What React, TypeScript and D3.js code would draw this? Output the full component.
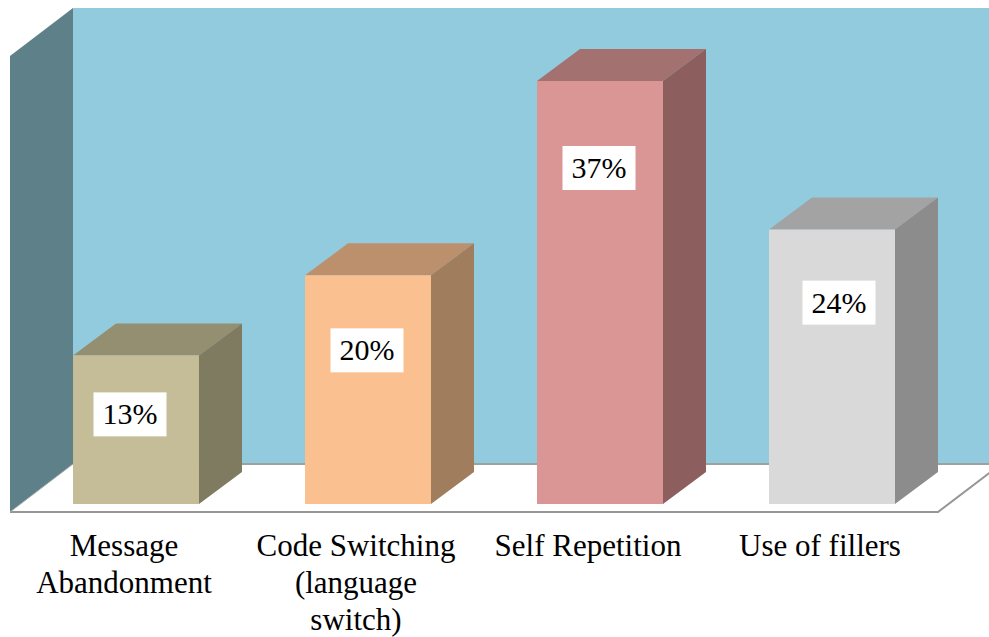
import React, { useRef, useEffect } from "react";
import * as d3 from "d3";

const categories = ["Message Abandonment", "Code Switching (language switch)", "Self Repetition", "Use of fillers"];
const categoryLines = [["Message", "Abandonment"], ["Code Switching", "(language", "switch)"], ["Self Repetition"], ["Use of fillers"]];
const values = [13, 20, 37, 24];
const faceColors = ["#c4bd97", "#fac090", "#d99694", "#d9d9d9"];
const topColors = ["#948f70", "#bc906c", "#a37170", "#a3a3a3"];
const sideColors = ["#7f7b60", "#a07d5d", "#8c5f5e", "#8c8c8c"];

// the value boxes were hand placed in the original
const labelNudgeX = [-6, -1, -1, 7];
const labelDropY = [59, 75, 87, 73];

export default function App() {
  const ref = useRef<HTMLDivElement>(null);

  useEffect(() => {
    const width = 989;
    const height = 637;
    const floorY = 512;
    const baseY = 504;
    const wallDepth = { x: 63, y: 48 };
    const barDepth = { x: 43, y: 32 };

    d3.select(ref.current).selectAll("*").remove();
    const svg = d3
      .select(ref.current)
      .append("svg")
      .attr("width", width)
      .attr("height", height)
      .style("position", "absolute")
      .style("left", 0)
      .style("top", 0)
      .style("background", "#fff");

    // bars sit 10px to the right of the floor's front edge because of the 3D depth
    const x = d3.scaleBand().domain(categories).range([20, 948]).paddingInner(0.457).paddingOuter(0.2285);
    const y = d3.scaleLinear().domain([0, 37]).range([baseY, 81]);
    const poly = d3.line();

    const wallTop = 8;
    const wallBack = floorY - wallDepth.y;

    // Back wall
    svg
      .append("path")
      .attr("d", poly([[10 + wallDepth.x, wallTop], [width, wallTop], [width, wallBack], [10 + wallDepth.x, wallBack]]) + "Z")
      .attr("fill", "#92cbdd");

    // Left wall
    svg
      .append("path")
      .attr("d", poly([[10, wallTop + wallDepth.y], [10 + wallDepth.x, wallTop], [10 + wallDepth.x, wallBack], [10, floorY]]) + "Z")
      .attr("fill", "#5e8089");

    // Floor edges
    svg
      .append("path")
      .attr("d", poly([[73, wallBack], [width, wallBack]]))
      .attr("fill", "none")
      .attr("stroke", "#a0a0a0")
      .attr("stroke-width", 2);
    svg
      .append("path")
      .attr("d", poly([[10, floorY], [938, floorY], [938 + wallDepth.x, floorY - wallDepth.y]]))
      .attr("fill", "none")
      .attr("stroke", "#969696")
      .attr("stroke-width", 2);
    svg
      .append("path")
      .attr("d", poly([[10, floorY], [73, wallBack]]))
      .attr("fill", "none")
      .attr("stroke", "#a8a8a8")
      .attr("stroke-width", 1);

    // Bars
    const bars = svg
      .selectAll("g.bar")
      .data(categories)
      .join("g")
      .attr("class", "bar");

    bars
      .append("path")
      .attr("d", (d, i) => {
        const x0 = x(d)!;
        const x1 = x0 + x.bandwidth();
        const top = y(values[i]);
        return poly([[x0, top], [x1, top], [x1 + barDepth.x, top - barDepth.y], [x0 + barDepth.x, top - barDepth.y]]) + "Z";
      })
      .attr("fill", (d, i) => topColors[i]);

    bars
      .append("path")
      .attr("d", (d, i) => {
        const x1 = x(d)! + x.bandwidth();
        const top = y(values[i]);
        return poly([[x1, top], [x1 + barDepth.x, top - barDepth.y], [x1 + barDepth.x, baseY - barDepth.y], [x1, baseY]]) + "Z";
      })
      .attr("fill", (d, i) => sideColors[i]);

    bars
      .append("rect")
      .attr("x", (d) => x(d)!)
      .attr("y", (d, i) => y(values[i]))
      .attr("width", x.bandwidth())
      .attr("height", (d, i) => baseY - y(values[i]))
      .attr("fill", (d, i) => faceColors[i]);

    // Value boxes
    const boxW = 73;
    const boxH = 44;
    const labelCx = (d: string, i: number) => x(d)! + x.bandwidth() / 2 + labelNudgeX[i];
    const labelCy = (i: number) => y(values[i]) + labelDropY[i];

    bars
      .append("rect")
      .attr("x", (d, i) => labelCx(d, i) - boxW / 2)
      .attr("y", (d, i) => labelCy(i) - boxH / 2)
      .attr("width", boxW)
      .attr("height", boxH)
      .attr("fill", "#fff");

    bars
      .append("text")
      .attr("x", (d, i) => labelCx(d, i))
      .attr("y", (d, i) => labelCy(i) + 10)
      .attr("text-anchor", "middle")
      .style("font-family", "'Liberation Serif'")
      .style("font-size", "30px")
      .attr("fill", "#000")
      .text((d, i) => `${values[i]}%`);

    // Category labels
    const labels = svg
      .selectAll("text.category")
      .data(categories)
      .join("text")
      .attr("class", "category")
      .attr("text-anchor", "middle")
      .style("font-family", "'Liberation Serif'")
      .style("font-size", "31px")
      .attr("fill", "#000");

    labels
      .selectAll("tspan")
      .data((d, i) => categoryLines[i].map((line) => ({ line, d })))
      .join("tspan")
      .attr("x", (t) => x(t.d)! + x.bandwidth() / 2 - 12)
      .attr("y", (t, j) => 556 + j * 37)
      .text((t) => t.line);
  }, []);

  return <div ref={ref}></div>;
}
